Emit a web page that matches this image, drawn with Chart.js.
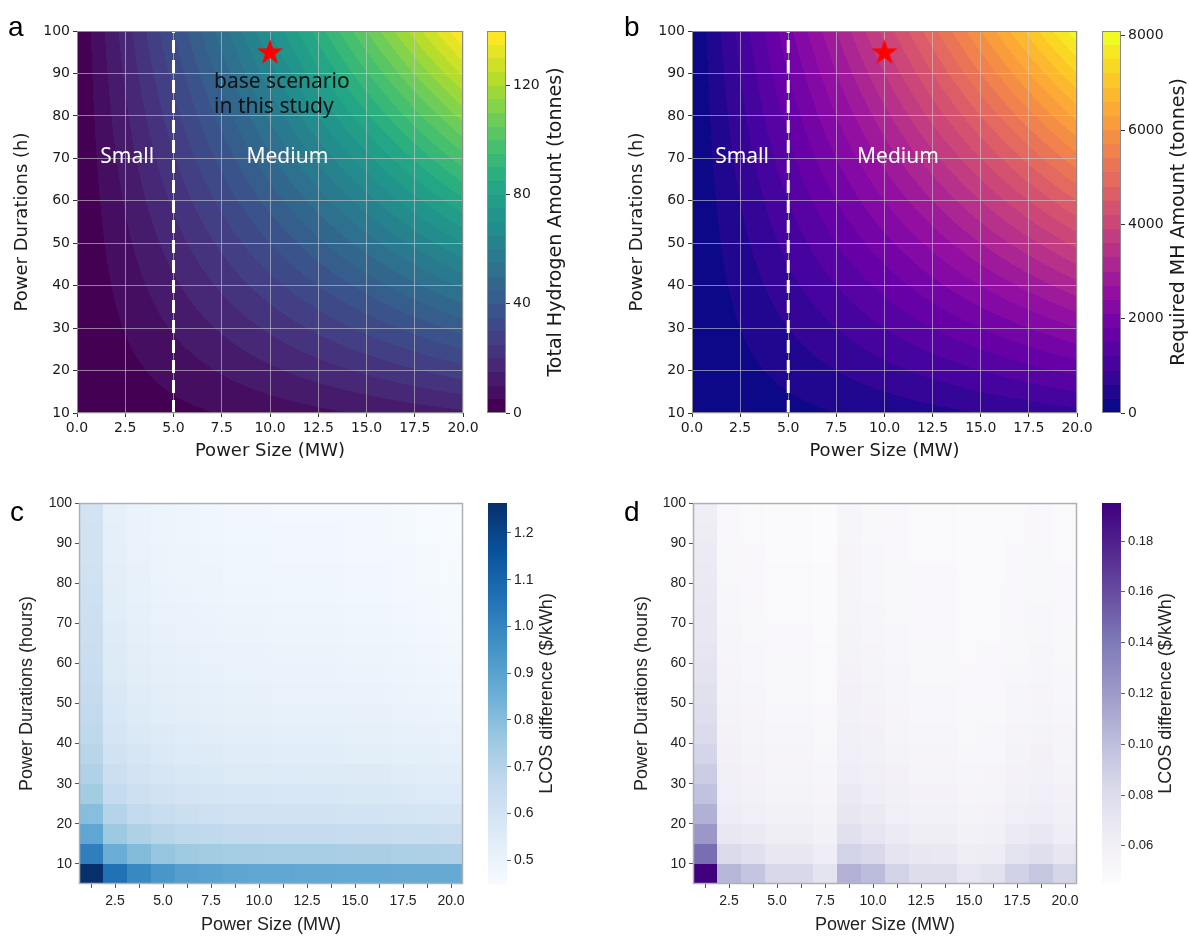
<!DOCTYPE html>
<html>
<head>
<meta charset="utf-8">
<title>Hydrogen storage sizing</title>
<script src="https://cdn.jsdelivr.net/npm/chart.js@4.4.1/dist/chart.umd.min.js"></script>
<style>
  html, body { margin: 0; padding: 0; background: #fff; }
  #fig { position: relative; width: 1189px; height: 936px; overflow: hidden; }
  #fig canvas { position: absolute; }
  .tag { position: absolute; font: 28px "Liberation Sans", Arial, sans-serif; line-height: 28px; color: #000; }
</style>
</head>
<body>
<div id="fig">
  <canvas id="plotA" width="483" height="470" style="left:0px;top:0px"></canvas>
  <canvas id="barA" width="100" height="470" style="left:487px;top:0px"></canvas>
  <canvas id="plotB" width="482" height="470" style="left:615px;top:0px"></canvas>
  <canvas id="barB" width="87" height="470" style="left:1102px;top:0px"></canvas>
  <canvas id="plotC" width="483" height="456" style="left:0px;top:480px"></canvas>
  <canvas id="barC" width="100" height="456" style="left:488px;top:480px"></canvas>
  <canvas id="plotD" width="482" height="456" style="left:615px;top:480px"></canvas>
  <canvas id="barD" width="87" height="456" style="left:1102px;top:480px"></canvas>
  <div class="tag" style="left:8px;top:13px">a</div>
  <div class="tag" style="left:624px;top:13px">b</div>
  <div class="tag" style="left:10px;top:498px">c</div>
  <div class="tag" style="left:624px;top:498px">d</div>
</div>
<script>
// ---- data ----

// panels a, b: grid the contours are filled from
const powerSizes = [0, 2.5, 5, 7.5, 10, 12.5, 15, 17.5, 20];      // MW
const durations = [10, 20, 30, 40, 50, 60, 70, 80, 90, 100];       // h
// total hydrogen (tonnes), one row per duration
const hydrogenAmount = [
  [0, 1.75, 3.5, 5.25, 7, 8.75, 10.5, 12.25, 14],
  [0, 3.5, 7, 10.5, 14, 17.5, 21, 24.5, 28],
  [0, 5.25, 10.5, 15.75, 21, 26.25, 31.5, 36.75, 42],
  [0, 7, 14, 21, 28, 35, 42, 49, 56],
  [0, 8.75, 17.5, 26.25, 35, 43.75, 52.5, 61.25, 70],
  [0, 10.5, 21, 31.5, 42, 52.5, 63, 73.5, 84],
  [0, 12.25, 24.5, 36.75, 49, 61.25, 73.5, 85.75, 98],
  [0, 14, 28, 42, 56, 70, 84, 98, 112],
  [0, 15.75, 31.5, 47.25, 63, 78.75, 94.5, 110.25, 126],
  [0, 17.5, 35, 52.5, 70, 87.5, 105, 122.5, 140]
];
// required metal hydride (tonnes)
const mhAmount = [
  [0, 100, 200, 300, 400, 500, 600, 700, 800],
  [0, 200, 400, 600, 800, 1000, 1200, 1400, 1600],
  [0, 300, 600, 900, 1200, 1500, 1800, 2100, 2400],
  [0, 400, 800, 1200, 1600, 2000, 2400, 2800, 3200],
  [0, 500, 1000, 1500, 2000, 2500, 3000, 3500, 4000],
  [0, 600, 1200, 1800, 2400, 3000, 3600, 4200, 4800],
  [0, 700, 1400, 2100, 2800, 3500, 4200, 4900, 5600],
  [0, 800, 1600, 2400, 3200, 4000, 4800, 5600, 6400],
  [0, 900, 1800, 2700, 3600, 4500, 5400, 6300, 7200],
  [0, 1000, 2000, 3000, 4000, 5000, 6000, 7000, 8000]
];
const hydrogenLevelStep = 5, hydrogenLevelTop = 140;
const mhLevelStep = 300, mhLevelTop = 8100;
const smallMediumSplit = 5;                 // MW
const baseScenario = { x: 10, y: 95 };

// panels c, d: heatmap cells
const cellPower = [1.25, 2.5, 3.75, 5, 6.25, 7.5, 8.75, 10, 11.25, 12.5, 13.75, 15, 16.25, 17.5, 18.75, 20];
const cellDuration = [10, 15, 20, 25, 30, 35, 40, 45, 50, 55, 60, 65, 70, 75, 80, 85, 90, 95, 100];
// LCOS difference ($/kWh), rows bottom (10 h) to top (100 h)
const lcosDiffC = [
  [1.264, 1.060, 0.990, 0.940, 0.910, 0.900, 0.890, 0.885, 0.885, 0.880, 0.880, 0.875, 0.875, 0.870, 0.870, 0.870],
  [1.018, 0.860, 0.808, 0.773, 0.753, 0.745, 0.736, 0.734, 0.731, 0.729, 0.729, 0.724, 0.724, 0.719, 0.716, 0.714],
  [0.885, 0.755, 0.715, 0.688, 0.672, 0.665, 0.658, 0.656, 0.653, 0.651, 0.651, 0.646, 0.646, 0.641, 0.638, 0.635],
  [0.800, 0.695, 0.660, 0.638, 0.626, 0.619, 0.612, 0.611, 0.607, 0.606, 0.606, 0.601, 0.601, 0.596, 0.592, 0.588],
  [0.745, 0.655, 0.624, 0.605, 0.594, 0.588, 0.581, 0.580, 0.576, 0.575, 0.575, 0.570, 0.570, 0.565, 0.561, 0.557],
  [0.710, 0.628, 0.599, 0.582, 0.572, 0.566, 0.560, 0.559, 0.555, 0.554, 0.554, 0.549, 0.549, 0.544, 0.540, 0.535],
  [0.688, 0.607, 0.580, 0.564, 0.555, 0.549, 0.543, 0.542, 0.538, 0.537, 0.537, 0.532, 0.532, 0.527, 0.523, 0.518],
  [0.672, 0.591, 0.565, 0.550, 0.542, 0.536, 0.530, 0.530, 0.525, 0.525, 0.525, 0.520, 0.520, 0.515, 0.510, 0.505],
  [0.660, 0.578, 0.553, 0.539, 0.531, 0.526, 0.520, 0.520, 0.515, 0.515, 0.515, 0.510, 0.510, 0.505, 0.500, 0.495],
  [0.650, 0.568, 0.544, 0.531, 0.524, 0.518, 0.513, 0.512, 0.508, 0.507, 0.507, 0.502, 0.502, 0.497, 0.493, 0.487],
  [0.642, 0.559, 0.536, 0.524, 0.517, 0.511, 0.506, 0.505, 0.501, 0.500, 0.500, 0.495, 0.495, 0.490, 0.486, 0.480],
  [0.635, 0.552, 0.529, 0.517, 0.510, 0.505, 0.500, 0.500, 0.495, 0.495, 0.495, 0.490, 0.490, 0.485, 0.480, 0.474],
  [0.629, 0.546, 0.523, 0.512, 0.505, 0.500, 0.495, 0.495, 0.490, 0.490, 0.490, 0.485, 0.485, 0.480, 0.475, 0.469],
  [0.622, 0.540, 0.518, 0.507, 0.501, 0.495, 0.490, 0.490, 0.485, 0.485, 0.485, 0.480, 0.480, 0.475, 0.470, 0.464],
  [0.617, 0.535, 0.514, 0.503, 0.497, 0.492, 0.487, 0.486, 0.482, 0.481, 0.481, 0.476, 0.476, 0.471, 0.467, 0.461],
  [0.612, 0.531, 0.510, 0.499, 0.493, 0.488, 0.483, 0.483, 0.478, 0.478, 0.478, 0.473, 0.473, 0.468, 0.463, 0.457],
  [0.608, 0.527, 0.506, 0.496, 0.490, 0.485, 0.480, 0.480, 0.475, 0.475, 0.475, 0.470, 0.470, 0.465, 0.460, 0.454],
  [0.604, 0.523, 0.503, 0.492, 0.487, 0.482, 0.477, 0.477, 0.472, 0.472, 0.472, 0.467, 0.467, 0.462, 0.457, 0.451],
  [0.600, 0.520, 0.500, 0.490, 0.485, 0.480, 0.475, 0.475, 0.470, 0.470, 0.470, 0.465, 0.465, 0.460, 0.455, 0.449]
];
const lcosDiffD = [
  [0.195, 0.105, 0.096, 0.084, 0.084, 0.074, 0.107, 0.101, 0.087, 0.080, 0.080, 0.072, 0.075, 0.088, 0.095, 0.085],
  [0.145, 0.082, 0.077, 0.070, 0.070, 0.064, 0.087, 0.083, 0.073, 0.069, 0.068, 0.063, 0.065, 0.074, 0.078, 0.071],
  [0.122, 0.070, 0.067, 0.063, 0.063, 0.059, 0.077, 0.072, 0.066, 0.063, 0.063, 0.059, 0.060, 0.066, 0.069, 0.064],
  [0.108, 0.065, 0.062, 0.059, 0.059, 0.056, 0.071, 0.067, 0.062, 0.059, 0.059, 0.056, 0.057, 0.062, 0.064, 0.060],
  [0.098, 0.062, 0.059, 0.056, 0.056, 0.054, 0.067, 0.064, 0.060, 0.057, 0.057, 0.054, 0.055, 0.059, 0.062, 0.058],
  [0.091, 0.060, 0.057, 0.055, 0.055, 0.053, 0.064, 0.061, 0.058, 0.055, 0.055, 0.053, 0.054, 0.057, 0.059, 0.056],
  [0.086, 0.058, 0.056, 0.054, 0.054, 0.052, 0.062, 0.059, 0.056, 0.054, 0.054, 0.052, 0.052, 0.056, 0.058, 0.055],
  [0.082, 0.057, 0.055, 0.053, 0.053, 0.051, 0.060, 0.058, 0.055, 0.053, 0.053, 0.051, 0.052, 0.054, 0.056, 0.054],
  [0.079, 0.056, 0.054, 0.052, 0.052, 0.050, 0.059, 0.057, 0.054, 0.052, 0.052, 0.051, 0.051, 0.053, 0.055, 0.053],
  [0.076, 0.055, 0.053, 0.051, 0.051, 0.049, 0.058, 0.056, 0.053, 0.052, 0.052, 0.050, 0.050, 0.053, 0.054, 0.052],
  [0.074, 0.054, 0.052, 0.051, 0.051, 0.049, 0.057, 0.055, 0.053, 0.051, 0.051, 0.050, 0.050, 0.052, 0.053, 0.052],
  [0.072, 0.053, 0.052, 0.050, 0.050, 0.049, 0.056, 0.054, 0.052, 0.051, 0.051, 0.049, 0.050, 0.051, 0.053, 0.051],
  [0.070, 0.053, 0.051, 0.050, 0.050, 0.048, 0.056, 0.053, 0.052, 0.050, 0.050, 0.049, 0.049, 0.051, 0.052, 0.051],
  [0.069, 0.052, 0.051, 0.049, 0.049, 0.048, 0.055, 0.053, 0.051, 0.050, 0.050, 0.049, 0.049, 0.050, 0.052, 0.050],
  [0.068, 0.052, 0.050, 0.049, 0.049, 0.048, 0.055, 0.052, 0.051, 0.050, 0.050, 0.049, 0.049, 0.050, 0.051, 0.050],
  [0.067, 0.051, 0.050, 0.049, 0.049, 0.048, 0.054, 0.052, 0.051, 0.050, 0.050, 0.048, 0.048, 0.050, 0.051, 0.050],
  [0.066, 0.051, 0.050, 0.048, 0.048, 0.047, 0.054, 0.052, 0.050, 0.049, 0.049, 0.048, 0.048, 0.050, 0.051, 0.049],
  [0.065, 0.050, 0.049, 0.048, 0.048, 0.047, 0.053, 0.051, 0.050, 0.049, 0.049, 0.048, 0.048, 0.049, 0.050, 0.049],
  [0.064, 0.050, 0.049, 0.048, 0.048, 0.047, 0.053, 0.051, 0.050, 0.049, 0.049, 0.048, 0.048, 0.049, 0.050, 0.049]
];
const lcosRangeC = [0.449, 1.264];
const lcosRangeD = [0.045, 0.195];

// tick labels
const sizeTicks = [0, 2.5, 5, 7.5, 10, 12.5, 15, 17.5, 20];
const durTicks = [10, 20, 30, 40, 50, 60, 70, 80, 90, 100];
const hydrogenTicks = [0, 40, 80, 120];
const mhTicks = [0, 2000, 4000, 6000, 8000];
const lcosTicksC = [0.5, 0.6, 0.7, 0.8, 0.9, 1.0, 1.1, 1.2];
const lcosTicksD = [0.06, 0.08, 0.10, 0.12, 0.14, 0.16, 0.18];

// ---- colour maps ----
const VIRIDIS = ['#440154', '#482475', '#414487', '#355f8d', '#2a788e', '#21918c', '#22a884', '#44bf70', '#7ad151', '#bddf26', '#fde725'];
const PLASMA = ['#0d0887', '#41049d', '#6a00a8', '#8f0da4', '#b12a90', '#cc4778', '#e16462', '#f2844b', '#fca636', '#fcce25', '#f0f921'];
const BLUES = ['#f7fbff', '#deebf7', '#c6dbef', '#9ecae1', '#6baed6', '#4292c6', '#2171b5', '#08519c', '#08306b'];
const PURPLES = ['#fcfbfd', '#efedf5', '#dadaeb', '#bcbddc', '#9e9ac8', '#807dba', '#6a51a3', '#54278f', '#3f007d'];

const hex = h => [1, 3, 5].map(i => parseInt(h.slice(i, i + 2), 16));
function cmap(stops, t) {
  t = Math.min(1, Math.max(0, t));
  const s = t * (stops.length - 1);
  const i = Math.min(stops.length - 2, Math.floor(s));
  const f = s - i, a = hex(stops[i]), b = hex(stops[i + 1]);
  return a.map((v, k) => Math.round(v + (b[k] - v) * f));
}
const css = c => 'rgb(' + c.join(',') + ')';

const MPL = '"DejaVu Sans", sans-serif';
const SNS = '"Liberation Sans", Arial, sans-serif';
const NOTE = '"Noto Sans", "Open Sans", sans-serif';

Chart.defaults.animation = false;
Chart.defaults.responsive = false;
Chart.defaults.devicePixelRatio = 1;
Chart.defaults.plugins.legend.display = false;
Chart.defaults.plugins.tooltip.enabled = false;
Chart.defaults.events = [];

const setTicks = vals => axis => { axis.ticks = vals.map(v => ({ value: v })); };

function bilinear(grid, xs, ys, x, y) {
  x = Math.min(xs[xs.length - 1], Math.max(xs[0], x));
  y = Math.min(ys[ys.length - 1], Math.max(ys[0], y));
  let i = 0, j = 0;
  while (i < xs.length - 2 && x > xs[i + 1]) i++;
  while (j < ys.length - 2 && y > ys[j + 1]) j++;
  const tx = (x - xs[i]) / (xs[i + 1] - xs[i]), ty = (y - ys[j]) / (ys[j + 1] - ys[j]);
  return grid[j][i] * (1 - tx) * (1 - ty) + grid[j][i + 1] * tx * (1 - ty) +
         grid[j + 1][i] * (1 - tx) * ty + grid[j + 1][i + 1] * tx * ty;
}

function bandColors(step, top, palette) {
  const n = Math.round(top / step), out = [];
  for (let b = 0; b < n; b++) out.push(cmap(palette, b / (n - 1)));
  return out;
}

// filled contours, painted under the grid
function contourLayer(grid, step, top, palette) {
  const cols = bandColors(step, top, palette);
  return {
    id: 'contour',
    beforeDraw(chart) {
      const { ctx, chartArea: a, scales: { x, y } } = chart;
      const w = Math.round(a.right - a.left), h = Math.round(a.bottom - a.top);
      const off = document.createElement('canvas');
      off.width = w; off.height = h;
      const octx = off.getContext('2d');
      const img = octx.createImageData(w, h);
      for (let py = 0; py < h; py++) {
        const yv = y.getValueForPixel(a.top + py + 0.5);
        for (let px = 0; px < w; px++) {
          const v = bilinear(grid, powerSizes, durations, x.getValueForPixel(a.left + px + 0.5), yv);
          const c = cols[Math.min(cols.length - 1, Math.max(0, Math.floor(v / step)))];
          const k = (py * w + px) * 4;
          img.data[k] = c[0]; img.data[k + 1] = c[1]; img.data[k + 2] = c[2]; img.data[k + 3] = 255;
        }
      }
      octx.putImageData(img, 0, 0);
      ctx.drawImage(off, Math.round(a.left), Math.round(a.top));
    }
  };
}

function heatLayer(rows, palette, range) {
  return {
    id: 'heat',
    beforeDraw(chart) {
      const { ctx, scales: { x, y } } = chart;
      rows.forEach((row, r) => row.forEach((v, c) => {
        const x0 = Math.round(x.getPixelForValue(cellPower[c] - 0.625));
        const x1 = Math.round(x.getPixelForValue(cellPower[c] + 0.625));
        const y0 = Math.round(y.getPixelForValue(cellDuration[r]));
        const y1 = Math.round(y.getPixelForValue(cellDuration[r] - 5));
        ctx.fillStyle = css(cmap(palette, (v - range[0]) / (range[1] - range[0])));
        ctx.fillRect(x0, y0, x1 - x0, y1 - y0);
      }));
    }
  };
}

function frameLayer(color, width) {
  return {
    id: 'frame',
    afterDatasetsDraw(chart) {
      const { ctx, chartArea: a } = chart;
      ctx.save();
      ctx.strokeStyle = color; ctx.lineWidth = width;
      ctx.strokeRect(Math.round(a.left) + 0.5, Math.round(a.top) + 0.5, Math.round(a.right - a.left) - 1, Math.round(a.bottom - a.top) - 1);
      ctx.restore();
    }
  };
}

function notesLayer(items) {
  return {
    id: 'notes',
    afterDatasetsDraw(chart) {
      const { ctx, scales: { x, y } } = chart;
      items.forEach(n => {
        ctx.save();
        ctx.font = n.font; ctx.fillStyle = n.color;
        ctx.textAlign = n.align || 'center';
        ctx.textBaseline = n.baseline || 'middle';
        ctx.fillText(n.text, x.getPixelForValue(n.x), y.getPixelForValue(n.y));
        ctx.restore();
      });
    }
  };
}

// red five-point star marker
const star = document.createElement('canvas');
star.width = 30; star.height = 30;
(function () {
  const c = star.getContext('2d');
  c.beginPath();
  for (let i = 0; i < 10; i++) {
    const r = i % 2 ? 5.3 : 13.8, ang = -Math.PI / 2 + i * Math.PI / 5;
    c.lineTo(15 + r * Math.cos(ang), 15.5 + r * Math.sin(ang));
  }
  c.closePath();
  c.fillStyle = '#ff0000';
  c.fill();
})();

function contourPanel(id, grid, step, top, palette, notes) {
  return new Chart(document.getElementById(id), {
    type: 'scatter',
    data: {
      datasets: [
        {
          type: 'line',
          data: [{ x: smallMediumSplit, y: durTicks[0] }, { x: smallMediumSplit, y: durTicks[durTicks.length - 1] }],
          borderColor: '#ffffff', borderWidth: 3, borderDash: [13, 7], pointRadius: 0
        },
        { data: [baseScenario], pointStyle: star, pointRadius: 14 }
      ]
    },
    options: {
      layout: { padding: { top: 31, right: 20, left: 0, bottom: 0 } },
      scales: {
        x: {
          type: 'linear', min: 0, max: 20,
          afterBuildTicks: setTicks(sizeTicks),
          afterFit: s => { s.height = 57; },
          grid: { color: 'rgba(205,205,205,0.6)', lineWidth: 1, tickLength: 4, tickColor: '#333' },
          border: { display: false },
          ticks: { font: { family: MPL, size: 14 }, color: '#1a1a1a', padding: 3, maxRotation: 0, autoSkip: false, callback: v => v.toFixed(1) },
          title: { display: true, text: 'Power Size (MW)', font: { family: MPL, size: 18 }, color: '#1a1a1a', padding: { top: 0, bottom: 8 } }
        },
        y: {
          type: 'linear', min: 10, max: 100,
          afterBuildTicks: setTicks(durTicks),
          afterFit: s => { s.width = 77; },
          grid: { color: 'rgba(205,205,205,0.6)', lineWidth: 1, tickLength: 4, tickColor: '#333' },
          border: { display: false },
          ticks: { font: { family: MPL, size: 14 }, color: '#1a1a1a', padding: 3, autoSkip: false },
          title: { display: true, text: 'Power Durations (h)', font: { family: MPL, size: 18 }, color: '#1a1a1a', padding: { top: 12, bottom: 0 } }
        }
      }
    },
    plugins: [contourLayer(grid, step, top, palette), frameLayer('#8a8a8a', 1), notesLayer(notes)]
  });
}

function heatPanel(id, rows, palette, range, yAxisW) {
  return new Chart(document.getElementById(id), {
    type: 'scatter',
    data: { datasets: [] },
    options: {
      layout: { padding: { top: 23, right: 20, left: 0, bottom: 0 } },
      scales: {
        x: {
          type: 'linear', min: 0.625, max: 20.625,
          afterBuildTicks: setTicks(cellPower),
          afterFit: s => { s.height = 52; },
          grid: { drawOnChartArea: false, tickLength: 4, tickColor: '#555' },
          border: { display: false },
          ticks: {
            font: { family: SNS, size: 14 }, color: '#222', padding: 5, maxRotation: 0, autoSkip: false,
            callback: v => (Math.abs(v / 2.5 - Math.round(v / 2.5)) < 1e-6 ? v.toFixed(1) : '')
          },
          title: { display: true, text: 'Power Size (MW)', font: { family: SNS, size: 18 }, color: '#222', padding: { top: 0, bottom: 0 } }
        },
        y: {
          type: 'linear', min: 5, max: 100,
          afterBuildTicks: setTicks(durTicks),
          afterFit: s => { s.width = yAxisW; },
          grid: { drawOnChartArea: false, tickLength: 4, tickColor: '#555' },
          border: { display: false },
          ticks: { font: { family: SNS, size: 14 }, color: '#222', padding: 3, autoSkip: false },
          title: { display: true, text: 'Power Durations (hours)', font: { family: SNS, size: 18 }, color: '#222', padding: { top: 16, bottom: 0 } }
        }
      }
    },
    plugins: [heatLayer(rows, palette, range), frameLayer('#b0b0b0', 1.5)]
  });
}

// colour bar: bands (contour) or a smooth ramp (heatmap)
function colorBar(id, cfg) {
  const layer = {
    id: 'cbar',
    beforeDraw(chart) {
      const { ctx, chartArea: a, scales: { y } } = chart;
      if (cfg.step) {
        bandColors(cfg.step, cfg.max, cfg.palette).forEach((c, b) => {
          const y0 = Math.round(y.getPixelForValue((b + 1) * cfg.step));
          const y1 = Math.round(y.getPixelForValue(b * cfg.step));
          ctx.fillStyle = css(c);
          ctx.fillRect(a.left, y0, a.right - a.left, y1 - y0);
        });
      } else {
        for (let py = Math.round(a.top); py < Math.round(a.bottom); py++) {
          const v = y.getValueForPixel(py + 0.5);
          ctx.fillStyle = css(cmap(cfg.palette, (v - cfg.min) / (cfg.max - cfg.min)));
          ctx.fillRect(a.left, py, a.right - a.left, 1);
        }
      }
    },
    afterDraw(chart) {
      const { ctx, chartArea: a } = chart;
      if (cfg.outline) {
        ctx.save();
        ctx.strokeStyle = cfg.outline; ctx.lineWidth = 1;
        ctx.strokeRect(a.left + 0.5, Math.round(a.top) + 0.5, a.right - a.left - 1, Math.round(a.bottom - a.top) - 1);
        ctx.restore();
      }
      ctx.save();
      ctx.translate(cfg.titleX, (a.top + a.bottom) / 2);
      ctx.rotate(-Math.PI / 2);
      ctx.font = cfg.titleFont; ctx.fillStyle = cfg.color;
      ctx.textAlign = 'center'; ctx.textBaseline = 'middle';
      ctx.fillText(cfg.title, 0, 0);
      ctx.restore();
    }
  };
  return new Chart(document.getElementById(id), {
    type: 'scatter',
    data: { datasets: [] },
    options: {
      layout: { padding: { top: cfg.top, bottom: cfg.bottom, left: 0, right: 0 } },
      scales: {
        x: { display: false, min: 0, max: 1 },
        y: {
          position: 'right', min: cfg.min, max: cfg.max,
          afterBuildTicks: setTicks(cfg.ticks),
          afterFit: s => { s.width = cfg.axisW; },
          grid: { drawOnChartArea: false, tickLength: 4, tickColor: cfg.tickColor },
          border: { display: false },
          ticks: { font: { family: cfg.family, size: cfg.size }, color: cfg.color, padding: 3, autoSkip: false, callback: cfg.fmt }
        }
      }
    },
    plugins: [layer]
  });
}

contourPanel('plotA', hydrogenAmount, hydrogenLevelStep, hydrogenLevelTop, VIRIDIS, [
  { text: 'base scenario', x: 7.1, y: 86.6, color: '#111', font: '21px ' + NOTE, align: 'left', baseline: 'alphabetic' },
  { text: 'in this study', x: 7.1, y: 80.6, color: '#111', font: '21px ' + NOTE, align: 'left', baseline: 'alphabetic' },
  { text: 'Small', x: 2.6, y: 70.3, color: '#fff', font: '21px ' + NOTE },
  { text: 'Medium', x: 10.9, y: 70.3, color: '#fff', font: '21px ' + NOTE }
]);
contourPanel('plotB', mhAmount, mhLevelStep, mhLevelTop, PLASMA, [
  { text: 'Small', x: 2.6, y: 70.3, color: '#fff', font: '21px ' + NOTE },
  { text: 'Medium', x: 10.7, y: 70.3, color: '#fff', font: '21px ' + NOTE }
]);

colorBar('barA', {
  top: 31, bottom: 57, axisW: 81, min: 0, max: hydrogenLevelTop, step: hydrogenLevelStep, palette: VIRIDIS,
  ticks: hydrogenTicks, fmt: v => String(v), family: MPL, size: 14, color: '#1a1a1a', tickColor: '#333',
  outline: '#8a8a8a', title: 'Total Hydrogen Amount (tonnes)', titleFont: '19px ' + MPL, titleX: 69
});
colorBar('barB', {
  top: 31, bottom: 57, axisW: 68, min: 0, max: mhLevelTop, step: mhLevelStep, palette: PLASMA,
  ticks: mhTicks, fmt: v => String(v), family: MPL, size: 14, color: '#1a1a1a', tickColor: '#333',
  outline: '#8a8a8a', title: 'Required MH Amount (tonnes)', titleFont: '19px ' + MPL, titleX: 77
});

heatPanel('plotC', lcosDiffC, BLUES, lcosRangeC, 79);
heatPanel('plotD', lcosDiffD, PURPLES, lcosRangeD, 78);

colorBar('barC', {
  top: 23, bottom: 52, axisW: 81, min: lcosRangeC[0], max: lcosRangeC[1], palette: BLUES,
  ticks: lcosTicksC, fmt: v => v.toFixed(1), family: SNS, size: 14, color: '#222', tickColor: '#666',
  title: 'LCOS difference ($/kWh)', titleFont: '18px ' + SNS, titleX: 59
});
colorBar('barD', {
  top: 23, bottom: 52, axisW: 68, min: lcosRangeD[0], max: lcosRangeD[1], palette: PURPLES,
  ticks: lcosTicksD, fmt: v => v.toFixed(2), family: SNS, size: 13, color: '#222', tickColor: '#666',
  title: 'LCOS difference ($/kWh)', titleFont: '18px ' + SNS, titleX: 64
});
</script>
</body>
</html>
